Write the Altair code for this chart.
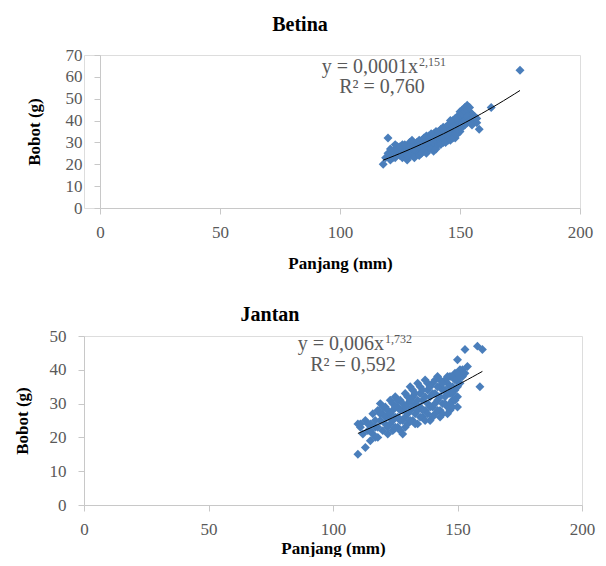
import altair as alt
import pandas as pd

# ---------------- data ----------------
betina_x = [118, 120, 119, 120, 121, 122, 122, 123, 124, 124, 125, 125, 126, 126, 127, 127,
            128, 128, 129, 129, 130, 130, 131, 131, 132, 132, 133, 133, 134, 134, 135, 135,
            136, 136, 137, 137, 138, 138, 139, 139, 140, 140, 141, 141, 142, 142, 143, 143,
            144, 144, 145, 145, 146, 146, 147, 147, 148, 148, 149, 149, 150, 150, 150, 151,
            151, 152, 152, 153, 153, 154, 154, 155, 156, 158, 163, 175, 123, 121, 126, 129,
            131, 134, 137, 140, 143, 146, 149, 152, 155,
            121, 123, 124, 125, 126, 127, 128, 129, 130, 130, 131, 132, 133, 133, 134, 135,
            135, 136, 136, 137, 138, 138, 139, 139, 140, 140, 141, 141, 142, 142, 143, 143,
            144, 144, 145, 145, 146, 146, 147, 147, 148, 148, 149, 149, 150, 150, 151, 151,
            152, 152, 153, 153, 154, 154, 155, 156, 157, 157, 148, 146]
betina_y = [20, 32, 23, 25, 24, 26, 23, 27, 25, 28, 24, 26, 29, 23, 27, 25,
            22, 28, 26, 30, 24, 27, 29, 25, 26, 30, 28, 25, 31, 27, 29, 26,
            33, 28, 30, 27, 32, 29, 34, 28, 31, 35, 30, 33, 36, 31, 34, 30,
            37, 32, 35, 31, 38, 33, 40, 34, 36, 32, 42, 38, 44, 35, 40, 45,
            37, 46, 41, 47, 39, 44, 42, 43, 40, 36, 46, 63, 29, 27, 26, 24,
            27, 29, 33, 29, 37, 35, 34, 38, 41,
            22, 23, 27, 28, 25, 29, 24, 28, 29, 31, 23, 28, 31, 24, 25, 32,
            27, 30, 25, 32, 27, 34, 30, 26, 33, 27, 35, 29, 33, 29, 32, 36,
            34, 30, 38, 33, 36, 31, 37, 32, 39, 34, 36, 40, 42, 37, 43, 39,
            44, 40, 45, 42, 46, 40, 38, 42, 39, 41, 41, 40]

jantan_x = [110, 113, 110, 111, 112, 113, 114, 115, 115, 116, 116, 117, 118, 118, 119, 119,
            120, 120, 121, 121, 122, 122, 123, 123, 124, 124, 125, 125, 126, 126, 127, 127,
            128, 128, 129, 129, 130, 130, 131, 131, 132, 132, 133, 133, 134, 134, 135, 135,
            136, 136, 137, 137, 138, 138, 139, 139, 140, 140, 141, 141, 142, 142, 143, 143,
            144, 144, 145, 145, 146, 146, 147, 147, 148, 148, 149, 149, 150, 150, 150, 151,
            151, 152, 153, 154, 158, 160, 159, 150, 147,
            111, 114, 115, 117, 117, 118, 119, 120, 121, 122, 122, 123, 124, 124, 125, 125,
            126, 126, 127, 127, 128, 128, 129, 129, 130, 130, 131, 131, 132, 132, 133, 133,
            134, 134, 135, 135, 136, 136, 137, 137, 138, 138, 139, 139, 140, 140, 141, 141,
            142, 142, 143, 143, 144, 144, 145, 145, 146, 146, 147, 147, 148, 148, 149, 149,
            150, 150, 151, 152, 153, 148, 146, 143]
jantan_y = [15, 17, 24, 23, 21, 25, 22, 24, 19, 27, 21, 23, 28, 20, 25, 30,
            22, 27, 24, 29, 21, 26, 31, 24, 28, 22, 32, 26, 23, 29, 31, 25,
            21, 28, 33, 26, 24, 30, 35, 28, 25, 32, 30, 27, 36, 24, 33, 29,
            26, 31, 37, 28, 34, 30, 25, 32, 36, 29, 33, 27, 38, 31, 35, 28,
            30, 34, 37, 32, 29, 36, 38, 33, 31, 35, 39, 34, 29, 43, 37, 40,
            36, 38, 46, 41, 47, 46, 35, 32, 30,
            24, 24, 22, 25, 20, 23, 27, 29, 26, 28, 23, 27, 30, 25, 23, 29,
            31, 26, 28, 22, 30, 25, 29, 23, 32, 27, 25, 31, 34, 29, 33, 24,
            31, 28, 35, 26, 34, 28, 32, 25, 36, 27, 35, 29, 33, 26, 37, 30,
            35, 28, 37, 32, 36, 27, 34, 30, 38, 33, 35, 28, 38, 33, 37, 31,
            39, 35, 38, 40, 39, 29, 27, 26]

x_ticks = [0, 50, 100, 150, 200]

FONT = "Liberation Serif"
BLUE = "#4A7EBB"
GREY = "#595959"
LINE = "#C8C8C8"


def panel(xs, ys, ymax, w, h, inset, title, title_dx, title_offset, eq_main, eq_sup, r2,
          eq_right, eq_y, sup_y, r2_x, r2_y, ytitle_pad, xlab_pad, xtitle_pad):
    df = pd.DataFrame({"x": xs, "y": ys})
    xenc = alt.X("x:Q", scale=alt.Scale(domain=[0, 200], nice=False, zero=True,
                                        range=[inset, w]),
                 axis=alt.Axis(values=x_ticks, title="Panjang (mm)", grid=False,
                               labelFont=FONT, labelFontSize=17, labelColor=GREY,
                               labelOverlap=False, labelFlush=False,
                               titleFont=FONT, titleFontSize=17, titleFontWeight="bold",
                               titleColor="black", domainColor=LINE, tickColor=LINE,
                               tickSize=6, labelPadding=xlab_pad, titlePadding=xtitle_pad))
    yenc = alt.Y("y:Q", scale=alt.Scale(domain=[0, ymax], nice=False, zero=True),
                 axis=alt.Axis(values=list(range(0, ymax + 1, 10)),
                               title="Bobot (g)", grid=False, labelOverlap=False,
                               labelFlush=False,
                               labelFont=FONT, labelFontSize=17, labelColor=GREY,
                               titleFont=FONT, titleFontSize=17, titleFontWeight="bold",
                               titleColor="black", domainColor=LINE, tickColor=LINE,
                               tickSize=6, labelPadding=12, titlePadding=ytitle_pad,
                               offset=-inset))
    base = alt.Chart(df).encode(x=xenc, y=yenc)
    one = alt.Chart(pd.DataFrame({"k": [0]}))
    pts = base.mark_point(shape="diamond", filled=True, color=BLUE, opacity=1, size=80)
    trend = base.transform_regression("x", "y", method="pow").mark_line(
        color="black", strokeWidth=1)
    t1 = one.mark_text(font=FONT, fontSize=20, color=GREY, align="right", baseline="middle").encode(
        x=alt.value(eq_right), y=alt.value(eq_y), text=alt.value(eq_main))
    t2 = one.mark_text(font=FONT, fontSize=12, color=GREY, align="left", baseline="middle").encode(
        x=alt.value(eq_right + 1), y=alt.value(sup_y), text=alt.value(eq_sup))
    t3 = one.mark_text(font=FONT, fontSize=20, color=GREY, align="center", baseline="middle").encode(
        x=alt.value(r2_x), y=alt.value(r2_y), text=alt.value(r2))
    return alt.layer(pts, trend, t1, t2, t3).properties(
        width=w, height=h,
        title=alt.TitleParams(title, font=FONT, fontSize=20, fontWeight="bold",
                              color="black", dx=title_dx, offset=title_offset))


top = panel(betina_x, betina_y, 70, 496, 153, 16, "Betina", -32, 11,
            "y = 0,0001x", "2,151", "R² = 0,760", 334, 12, 7, 298, 32,
            22, 10, 15)
bottom = panel(jantan_x, jantan_y, 50, 498, 169, 0, "Jantan", -63, 2,
               "y = 0,006x", "1,732", "R² = 0,592", 300, 8, 3, 269, 29,
               18, 10, 3)

chart = alt.vconcat(top, bottom, spacing=32).configure_view(
    strokeWidth=0).configure(padding={"left": 4, "top": 6, "right": 0, "bottom": 0})

chart.save("out.html", embed_options={"renderer": "svg", "actions": False})
